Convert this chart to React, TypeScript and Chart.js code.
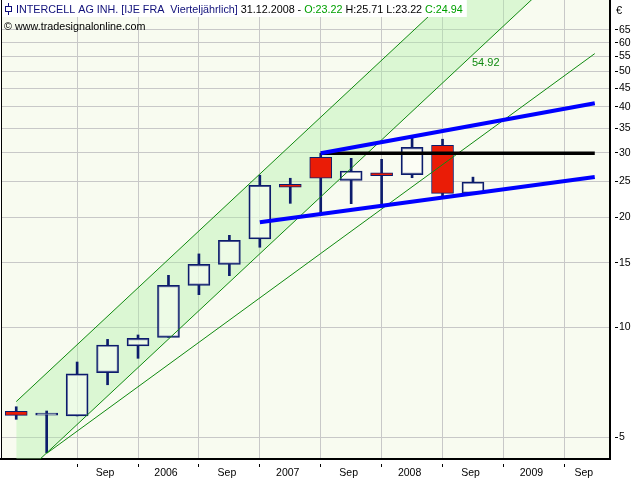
import React, { useEffect, useRef } from 'react';
import { Chart, registerables } from 'chart.js';

Chart.register(...registerables);

// ---- data -----------------------------------------------------------
const quarters = ['Q1 2005', 'Q2 2005', 'Q3 2005', 'Q4 2005', 'Q1 2006', 'Q2 2006', 'Q3 2006', 'Q4 2006',
  'Q1 2007', 'Q2 2007', 'Q3 2007', 'Q4 2007', 'Q1 2008', 'Q2 2008', 'Q3 2008', 'Q4 2008'];
const opens = [5.88, 5.74, 5.71, 7.5, 8.87, 9.37, 13.0, 14.84, 17.41, 24.58, 29.13, 25.2, 26.4, 26.11, 31.43, 23.22];
const highs = [6.05, 5.89, 8.02, 9.25, 9.51, 13.85, 15.85, 17.82, 26.02, 25.53, 29.88, 28.95, 28.77, 32.97, 32.65, 25.71];
const lows = [5.59, 4.53, 5.71, 6.95, 8.21, 9.37, 12.26, 13.82, 16.53, 21.8, 20.47, 21.75, 21.27, 25.62, 22.73, 23.22];
const closes = [5.73, 5.74, 7.44, 8.93, 9.31, 13.0, 14.84, 17.27, 24.43, 24.12, 25.53, 26.73, 25.95, 31.03, 23.22, 24.94];

const xTickLabels = ['Sep', '2006', 'Sep', '2007', 'Sep', '2008', 'Sep', '2009', 'Sep'];
const yTickValues = [5, 10, 15, 20, 25, 30, 35, 40, 45, 50, 55, 60, 65];

const channelUpper = [{ x: 0, y: 6.25 }, { x: 17, y: 131.6 }];
const channelLower = [{ x: 0, y: 3.78 }, { x: 17, y: 79.7 }];
const supportLine = [{ x: 1, y: 4.51 }, { x: 19, y: 56 }];
const blueUpper = [{ x: 10, y: 29.88 }, { x: 19, y: 40.95 }];
const blueLower = [{ x: 8, y: 19.34 }, { x: 19, y: 25.72 }];
const resistance = [{ x: 10, y: 29.88 }, { x: 19, y: 29.88 }];
const channelLabel = { x: 15, value: 54.92 };

const instrument = 'INTERCELL AG INH.';
const exchange = 'IJE FRA';
const period = 'Vierteljährlich';
const lastDate = '31.12.2008';
const copyright = '© www.tradesignalonline.com';
const currency = '€';

// ---- style ----------------------------------------------------------
const X_MIN = -0.5, X_MAX = 19.5;
const Y_MIN = 4.353, Y_MAX = 78.5;
const FONT = '"Liberation Sans", Arial, sans-serif';
const NAVY = '#0c1c6c';
const TITLE_NAVY = '#10107a';
const RED = '#ea1c06';
const HOLLOW = 'rgba(255,255,250,0.5)';
const GREEN_LINE = '#108a10';
const TEXT_GREEN = '#00a000';
const CHANNEL_FILL = 'rgba(170,240,160,0.36)';
const GRID = '#c8c8c8';
const PLOT_BG = '#f8fbf0';
const TRANSPARENT = 'rgba(0,0,0,0)';

const decorPlugin = {
  id: 'decor',
  beforeDraw(chart: any) {
    const { ctx, chartArea: a } = chart;
    ctx.save();
    ctx.fillStyle = '#ffffff';
    ctx.fillRect(0, 0, chart.width, chart.height);
    ctx.fillStyle = PLOT_BG;
    ctx.fillRect(a.left, a.top, a.right - a.left, a.bottom - a.top);
    ctx.restore();
  },
  afterDraw(chart: any) {
    const { ctx, chartArea: a, scales } = chart;
    const last = opens.length - 1;
    ctx.save();
    // left border
    ctx.strokeStyle = '#000';
    ctx.lineWidth = 1;
    ctx.beginPath();
    ctx.moveTo(a.left + 0.5, a.top);
    ctx.lineTo(a.left + 0.5, a.bottom);
    ctx.stroke();

    // channel value label
    ctx.font = `11px ${FONT}`;
    ctx.fillStyle = GREEN_LINE;
    ctx.textAlign = 'left';
    ctx.textBaseline = 'middle';
    const lx = scales.x.getPixelForValue(channelLabel.x);
    const ly = scales.y.getPixelForValue(channelLabel.value);
    ctx.fillText(channelLabel.value.toFixed(2), lx - 1, ly + 6);

    // header
    const segs = [
      { t: `${instrument} [${exchange}  ${period}]`, c: TITLE_NAVY },
      { t: ` ${lastDate} - `, c: '#000' },
      { t: `O:${opens[last].toFixed(2)}`, c: TEXT_GREEN },
      { t: ` H:${highs[last].toFixed(2)} L:${lows[last].toFixed(2)} `, c: '#000' },
      { t: `C:${closes[last].toFixed(2)}`, c: TEXT_GREEN },
    ];
    ctx.font = `11px ${FONT}`;
    const w0 = segs.reduce((s, g) => s + ctx.measureText(g.t).width, 0);
    const size = Math.max(9, Math.min(12, (11 * 447) / w0));
    ctx.font = `${size}px ${FONT}`;
    const total = segs.reduce((s, g) => s + ctx.measureText(g.t).width, 0);
    ctx.fillStyle = '#ffffff';
    ctx.fillRect(a.left + 1, 0, 16 + total + 4 - (a.left + 1), 17);
    // candle icon
    ctx.strokeStyle = TITLE_NAVY;
    ctx.lineWidth = 1;
    ctx.beginPath();
    ctx.moveTo(8.5, 3);
    ctx.lineTo(8.5, 15);
    ctx.stroke();
    ctx.fillStyle = '#fff';
    ctx.fillRect(5.5, 6.5, 6, 5);
    ctx.strokeRect(5.5, 6.5, 6, 5);
    ctx.textBaseline = 'alphabetic';
    let x = 16;
    segs.forEach((g) => {
      ctx.fillStyle = g.c;
      ctx.fillText(g.t, x, 13);
      x += ctx.measureText(g.t).width;
    });
    ctx.fillStyle = '#000';
    ctx.fillText(copyright, 4, 30);

    // currency
    ctx.font = `11px ${FONT}`;
    ctx.fillText(currency, a.right + 6, 14);
    ctx.restore();
  },
};

export default function App() {
  const ref = useRef<HTMLCanvasElement>(null);

  useEffect(() => {
    const canvas = ref.current;
    if (!canvas) return;
    const idx = opens.map((_, i) => i);
    const bodyData = idx.map((i) => ({ x: i, y: [opens[i], closes[i]] }));
    const upperWick = idx.map((i) => ({ x: i, y: [Math.max(opens[i], closes[i]), highs[i]] }));
    const lowerWick = idx.map((i) => ({ x: i, y: [lows[i], Math.min(opens[i], closes[i])] }));
    const bull = idx.map((i) => closes[i] >= opens[i]);
    const bodyColors = bull.map((b) => (b ? HOLLOW : RED));
    const bodyBorders = bull.map((b) => (b ? 1.5 : 1));

    const xTicks: any[] = [];
    for (let v = 2; v <= 18; v += 2) xTicks.push({ value: v, kind: 'grid' });
    xTickLabels.forEach((lbl, k) => {
      const v = Math.min(3 + 2 * k, X_MAX - 0.78);
      xTicks.push({ value: v, kind: 'label', lbl });
    });
    xTicks.sort((p, q) => p.value - q.value);

    const lineBase = { type: 'line', pointRadius: 0, pointHoverRadius: 0, clip: 0, tension: 0 };

    const chart = new Chart(canvas, {
      type: 'bar',
      data: {
        labels: quarters,
        datasets: [
          { ...lineBase, label: 'channel upper', data: channelUpper, borderColor: GREEN_LINE, borderWidth: 1, fill: '+1', backgroundColor: CHANNEL_FILL, order: 3 },
          { ...lineBase, label: 'channel lower', data: channelLower, borderColor: GREEN_LINE, borderWidth: 1, fill: false, order: 3 },
          { ...lineBase, label: 'support', data: supportLine, borderColor: GREEN_LINE, borderWidth: 1, fill: false, order: 3 },
          { type: 'bar', label: 'upper wick', data: upperWick, backgroundColor: NAVY, borderWidth: 0, barThickness: 2, grouped: false, order: 6 },
          { type: 'bar', label: 'lower wick', data: lowerWick, backgroundColor: NAVY, borderWidth: 0, barThickness: 2, grouped: false, order: 6 },
          { type: 'bar', label: 'body', data: bodyData, backgroundColor: bodyColors, borderColor: NAVY, borderWidth: bodyBorders, borderSkipped: false, barThickness: 22, grouped: false, minBarLength: 2, order: 5 },
          { ...lineBase, label: 'lower trend', data: blueLower, borderColor: '#0000ff', borderWidth: 4, fill: false, order: 1 },
          { ...lineBase, label: 'upper trend', data: blueUpper, borderColor: '#0000ff', borderWidth: 4, fill: false, order: 1 },
          { ...lineBase, label: 'resistance', data: resistance, borderColor: '#000000', borderWidth: 3.5, fill: false, order: 2 },
        ],
      } as any,
      options: {
        responsive: false,
        maintainAspectRatio: false,
        animation: false,
        devicePixelRatio: 1,
        events: [],
        layout: { padding: { left: 1, top: 0, right: 0, bottom: 0 } },
        plugins: {
          legend: { display: false },
          tooltip: { enabled: false },
          filler: { drawTime: 'beforeDatasetsDraw' },
        },
        scales: {
          x: {
            type: 'linear',
            min: X_MIN,
            max: X_MAX,
            bounds: 'data',
            offset: false,
            afterBuildTicks: (s: any) => { s.ticks = xTicks; },
            afterFit: (s: any) => { s.height = 21; s.paddingLeft = 0; s.paddingRight = 0; },
            grid: {
              offset: false,
              color: (c: any) => (c.tick && c.tick.kind === 'grid' ? GRID : TRANSPARENT),
              tickColor: (c: any) => (c.tick && c.tick.kind === 'grid' ? '#000' : TRANSPARENT),
              lineWidth: 1,
              tickLength: 8,
              tickBorderDash: [3, 100],
              tickBorderDashOffset: -4,
            },
            border: { color: '#000', width: 2 },
            ticks: {
              autoSkip: false,
              maxRotation: 0,
              minRotation: 0,
              padding: 0,
              labelOffset: -2.5,
              color: '#000',
              font: { family: FONT, size: 10.5 },
              callback: (_v: any, i: number) => xTicks[i]?.lbl || '',
            },
          },
          y: {
            type: 'logarithmic',
            position: 'right',
            min: Y_MIN,
            max: Y_MAX,
            bounds: 'data',
            afterBuildTicks: (s: any) => { s.ticks = yTickValues.map((v) => ({ value: v })); },
            afterFit: (s: any) => { s.width = 30; s.paddingTop = 0; s.paddingBottom = 0; },
            grid: {
              color: GRID,
              lineWidth: 1,
              tickColor: '#000',
              tickLength: 8,
              tickBorderDash: [3, 100],
              tickBorderDashOffset: -4,
            },
            border: { color: '#000', width: 2 },
            ticks: {
              autoSkip: false,
              padding: 1,
              color: '#000',
              font: { family: FONT, size: 10.5 },
              callback: (v: any) => String(v),
            },
          },
        },
      } as any,
      plugins: [decorPlugin],
    });
    return () => chart.destroy();
  }, []);

  return (
    <div style={{ position: 'absolute', left: 0, top: 0, width: 640, height: 480, background: '#fff' }}>
      <canvas ref={ref} width={640} height={480} style={{ display: 'block', width: 640, height: 480 }} />
    </div>
  );
}
